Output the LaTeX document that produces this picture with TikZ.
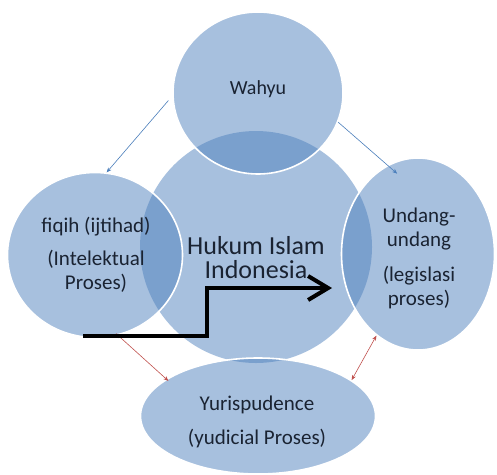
\documentclass[tikz,border=0pt]{standalone}
\usepackage{fontspec}
\setmainfont{Carlito}
\usetikzlibrary{arrows.meta,shapes.geometric}
\definecolor{venn}{HTML}{4F81BD}
\definecolor{inkblue}{HTML}{4A7EBB}
\definecolor{inkred}{HTML}{C0504D}
\definecolor{label}{HTML}{1A2332}
\tikzset{
  core/.style={circle,fill=venn,fill opacity=0.5,inner sep=0pt},
  blob/.style={ellipse,fill=venn,fill opacity=0.5,draw=white,line width=1.6pt,inner sep=0pt},
  txt/.style={text=label,align=center,font=\fontsize{21}{24}\selectfont},
  flow/.style={inkblue,line width=0.6pt,-{Stealth[length=5pt,width=4pt]}},
  link/.style={inkred,line width=0.6pt,{Stealth[length=5pt,width=4pt]}-{Stealth[length=5pt,width=4pt]}},
  stairs/.style={line width=4pt,-{Straight Barb[length=20pt,width=24pt]}},
}

\begin{document}
\begin{tikzpicture}[x=1pt,y=-1pt]
    \useasboundingbox (0,0) rectangle (497,474);
    % circles
    \node[core,minimum size=232pt] (hukum) at (256,247) {};
    \node[blob,minimum width=170pt,minimum height=162pt] (wahyu) at (258,93) {};
    \node[blob,minimum width=175pt,minimum height=165pt] (fiqih) at (95,255) {};
    \node[blob,minimum width=153pt,minimum height=192pt] (undang) at (418,254) {};
    \node[blob,minimum width=235pt,minimum height=116pt] (yuris) at (258,416) {};
    % labels
    \node[txt,font=\fontsize{20}{24}\selectfont] (wahyutxt) at (258,89) {Wahyu};
    \node[txt] (fiqihtxt) at (96,255) {fiqih (ijtihad)\\[9pt](Intelektual\\Proses)};
    \node[txt,font=\fontsize{26}{24}\selectfont] (hukumtxt) at (256,258) {Hukum Islam\\Indonesia};
    \node[txt] (undangtxt) at (419,258) {Undang-\\undang\\[11pt](legislasi\\proses)};
    \node[txt] (yuristxt) at (257,422) {Yurispudence\\[10pt](yudicial Proses)};
    % connectors
    \draw[flow,shorten <=6pt] (wahyu.182) -- (fiqih.82);
    \draw[flow,shorten >=-13pt] (wahyu.-20) -- (undang.109);
    \draw[link,shorten <=-3pt,shorten >=-3pt] (fiqih.-74) -- (yuris.158);
    \draw[link] (undang.-117) -- (yuris.21);
    % step arrow
    \coordinate (stepstart) at (83,336);
    \coordinate (stepbend) at (207,288);
    \coordinate (steptip) at (332,288);
    \draw[stairs,black!45,opacity=0.5,shift={(2,2)}] (stepstart) -| (stepbend) -- (steptip);
    \draw[stairs] (stepstart) -| (stepbend) -- (steptip);
\end{tikzpicture}
\end{document}
